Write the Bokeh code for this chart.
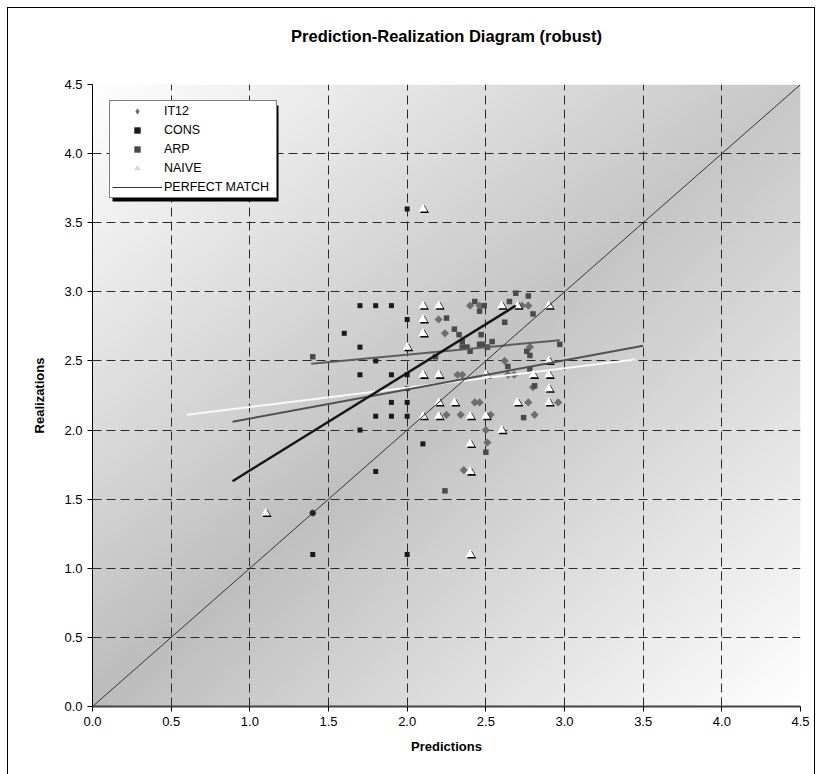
import numpy as np
from bokeh.plotting import figure
from bokeh.models import (Legend, LegendItem, ColumnDataSource, FixedTicker, NumeralTickFormatter,
                          BoxAnnotation, LinearAxis)
from bokeh.transform import dodge
from bokeh.embed import file_html
from bokeh.resources import INLINE

# ---------------- data ----------------
title_text = "Prediction-Realization Diagram (robust)"
x_label = "Predictions"
y_label = "Realizations"
axis_min, axis_max = 0.0, 4.5
tick_values = [0.0, 0.5, 1.0, 1.5, 2.0, 2.5, 3.0, 3.5, 4.0, 4.5]

it12_x = [2.40, 2.46, 2.73, 2.77, 2.20, 2.24, 2.62, 2.78, 2.32, 2.35, 2.64, 2.68, 2.80,
          2.43, 2.46, 2.77, 2.96, 2.25, 2.34, 2.53, 2.81, 2.50, 2.51, 2.36, 1.40]
it12_y = [2.90, 2.90, 2.90, 2.90, 2.80, 2.70, 2.50, 2.60, 2.40, 2.40, 2.40, 2.40, 2.31,
          2.20, 2.20, 2.20, 2.20, 2.11, 2.11, 2.11, 2.11, 2.00, 1.91, 1.71, 1.40]

cons_x = [2.0, 1.7, 1.8, 1.9, 2.0, 1.6, 1.7, 1.8, 1.7, 1.9, 2.0, 2.0, 1.9, 2.0, 1.8, 1.9,
          2.0, 1.7, 2.1, 1.8, 1.4, 1.4, 2.0]
cons_y = [3.6, 2.9, 2.9, 2.9, 2.8, 2.7, 2.6, 2.5, 2.4, 2.4, 2.4, 2.3, 2.2, 2.2, 2.1, 2.1,
          2.1, 2.0, 1.9, 1.7, 1.4, 1.1, 1.1]

arp_x = [1.40, 2.18, 2.25, 2.30, 2.33, 2.35, 2.35, 2.38, 2.40, 2.43, 2.49, 2.46, 2.47, 2.46,
         2.48, 2.51, 2.54, 2.62, 2.65, 2.69, 2.77, 2.80, 2.76, 2.78, 2.97, 2.64, 2.78, 2.81,
         2.74, 2.50, 2.24]
arp_y = [2.53, 2.53, 2.81, 2.73, 2.69, 2.64, 2.60, 2.60, 2.57, 2.93, 2.90, 2.86, 2.69, 2.62,
         2.62, 2.60, 2.64, 2.78, 2.93, 2.99, 2.97, 2.84, 2.57, 2.54, 2.62, 2.46, 2.44, 2.32,
         2.09, 1.84, 1.56]

naive_x = [2.1, 2.1, 2.2, 2.6, 2.7, 2.9, 2.1, 2.1, 2.0, 2.9, 2.1, 2.2, 2.5, 2.8, 2.9, 2.9,
           2.2, 2.3, 2.7, 2.9, 2.1, 2.2, 2.4, 2.5, 2.6, 2.4, 2.4, 1.1, 2.4]
naive_y = [3.6, 2.9, 2.9, 2.9, 2.9, 2.9, 2.8, 2.7, 2.6, 2.5, 2.4, 2.4, 2.4, 2.4, 2.4, 2.3,
           2.2, 2.2, 2.2, 2.2, 2.1, 2.1, 2.1, 2.1, 2.0, 1.9, 1.7, 1.4, 1.1]

# trend lines (end points)
trend_black_x = [0.89, 2.69]
trend_black_y = [1.63, 2.90]
trend_dark_x = [0.89, 3.50]
trend_dark_y = [2.06, 2.61]
trend_mid_x = [1.39, 2.97]
trend_mid_y = [2.48, 2.65]
trend_white_x = [0.60, 3.45]
trend_white_y = [2.11, 2.51]

perfect_x = [0.0, 4.5]
perfect_y = [0.0, 4.5]

legend_labels = ["IT12", "CONS", "ARP", "NAIVE", "PERFECT MATCH"]

# ---------------- layout constants (pixels) ----------------
FRAME_W, FRAME_H = 708, 622
BORDER_L, BORDER_R, BORDER_T, BORDER_B = 84, 14, 76, 68
TITLE_GAP = 40
LEG_X, LEG_Y = 17, 508          # legend bottom-left offset inside frame
LEG_PAD, LEG_GLYPH_W, LEG_STANDOFF, LEG_LABEL_W = 2, 50, 2, 110
LEG_ROW_H, LEG_SPACING, N_ROWS = 16, 3, 5
SHADOW = 3

FONT = "Liberation Sans"
p = figure(frame_width=FRAME_W, frame_height=FRAME_H,
           x_range=(axis_min, axis_max), y_range=(axis_min, axis_max),
           output_backend="svg", toolbar_location=None,
           min_border_left=BORDER_L, min_border_right=BORDER_R,
           min_border_top=BORDER_T, min_border_bottom=BORDER_B)
p.styles = {"margin-left": "7px", "margin-top": "7px",
            "border-top": "1px solid #000000", "border-left": "1px solid #000000",
            "border-right": "1px solid #000000"}
p.background_fill_color = "white"
p.border_fill_color = "white"
p.outline_line_color = None

xax = p.below[0]
yax = p.left[0]

# chart title: label of a tick-less axis above the frame
title_axis = LinearAxis(ticker=FixedTicker(ticks=[]), axis_line_color=None,
                        major_tick_line_color=None, minor_tick_line_color=None,
                        major_tick_out=0, major_tick_in=0, major_label_standoff=0,
                        axis_label=title_text, axis_label_standoff=TITLE_GAP,
                        axis_label_text_font=FONT, axis_label_text_font_size="16.5px",
                        axis_label_text_font_style="bold", axis_label_text_color="#000000")
p.add_layout(title_axis, "above")

it12_src = ColumnDataSource(dict(x=it12_x, y=it12_y))
naive_src = ColumnDataSource(dict(x=naive_x, y=naive_y))

# legend key glyphs (drawn beneath the opaque plot background, only shown in the legend)
r_it12_key = p.scatter("x", "y", source=it12_src, marker="diamond", size=11.5,
                       fill_color="#6e6e6e", line_color=None, level="image")
r_naive_key = p.scatter("x", "y", source=naive_src, marker="triangle", size=9,
                        fill_color="#d6d6d6", line_color=None, level="image")

# gradient background of the plot area
n = 300
u = np.linspace(0, 1, n)
U, V = np.meshgrid(u, u)
d = np.abs(U - V)
s = (U + V) / 2
dark = 188 + 12 * s
g = dark + (255 - dark) * d ** 1.0
img = np.zeros((n, n), dtype=np.uint32)
view = img.view(dtype=np.uint8).reshape((n, n, 4))
gv = np.clip(g, 0, 255).astype(np.uint8)
view[..., 0] = gv
view[..., 1] = gv
view[..., 2] = gv
view[..., 3] = 255
p.image_rgba(image=[img], x=axis_min, y=axis_min, dw=axis_max - axis_min,
             dh=axis_max - axis_min, level="image")

# grid
for grid in (p.xgrid, p.ygrid):
    grid.ticker = FixedTicker(ticks=tick_values)
    grid.grid_line_color = "#2a2a2a"
    grid.grid_line_dash = "9 5"
    grid.grid_line_width = 1

# axes
for ax in (xax, yax):
    ax.ticker = FixedTicker(ticks=tick_values)
    ax.formatter = NumeralTickFormatter(format="0.0")
    ax.major_tick_out = 5
    ax.major_tick_in = 0
    ax.minor_tick_line_color = None
    ax.major_label_text_font = FONT
    ax.major_label_text_font_size = "13px"
    ax.major_label_text_color = "#000000"
    ax.axis_label_text_font = FONT
    ax.axis_label_text_font_size = "13px"
    ax.axis_label_text_font_style = "bold"
    ax.axis_label_text_color = "#000000"
    ax.major_tick_line_color = "#000000"
xax.axis_label = x_label
yax.axis_label = y_label
xax.axis_line_color = "#444444"
xax.axis_line_width = 2
yax.axis_line_color = "#000000"
xax.major_label_standoff = 5
xax.axis_label_standoff = 10
yax.major_label_standoff = 5
yax.axis_label_standoff = 14

# ---------------- series ----------------
p.scatter("x", "y", source=it12_src, marker="square", angle=np.pi / 4, size=5.8,
          fill_color="#6e6e6e", line_color=None)
r_cons = p.scatter(cons_x, cons_y, marker="square", size=5,
                   fill_color="#1a1a1a", line_color=None)
r_arp = p.scatter(arp_x, arp_y, marker="square", size=5.5,
                  fill_color="#4a4a4a", line_color=None)

p.scatter(x=dodge("x", 0.010), y=dodge("y", -0.011), source=naive_src, marker="triangle",
          size=9, fill_color="#000000", line_color=None)
p.scatter(x="x", y="y", source=naive_src, marker="triangle", size=9,
          fill_color="#ffffff", line_color=None)

# trend lines
p.line(trend_white_x, trend_white_y, line_color="#f8f8f8", line_width=2)
p.line(trend_dark_x, trend_dark_y, line_color="#505050", line_width=2)
p.line(trend_mid_x, trend_mid_y, line_color="#5c5c5c", line_width=2)
p.line(trend_black_x, trend_black_y, line_color="#151515", line_width=2.5)
r_perfect = p.line(perfect_x, perfect_y, line_color="#333333", line_width=1)

renderers = [r_it12_key, r_cons, r_arp, r_naive_key, r_perfect]

# legend drop shadow (pixel offsets converted to data units)
px_x = (axis_max - axis_min) / FRAME_W
px_y = (axis_max - axis_min) / FRAME_H
leg_w = 2 * LEG_PAD + LEG_GLYPH_W + LEG_STANDOFF + LEG_LABEL_W
leg_h = 2 * LEG_PAD + N_ROWS * LEG_ROW_H + (N_ROWS - 1) * LEG_SPACING
p.add_layout(BoxAnnotation(left=axis_min + (LEG_X + SHADOW) * px_x,
                           right=axis_min + (LEG_X + leg_w + SHADOW) * px_x,
                           bottom=axis_min + (LEG_Y - SHADOW) * px_y,
                           top=axis_min + (LEG_Y + leg_h - SHADOW) * px_y,
                           fill_color="#000000", fill_alpha=1, line_color=None))

items = [LegendItem(label=lab, renderers=[r]) for lab, r in zip(legend_labels, renderers)]
lg = Legend(items=items, location=(LEG_X, LEG_Y), orientation="vertical")
lg.padding = LEG_PAD
lg.spacing = LEG_SPACING
lg.label_height = LEG_ROW_H
lg.glyph_height = LEG_ROW_H
lg.glyph_width = LEG_GLYPH_W
lg.label_width = LEG_LABEL_W
lg.label_standoff = LEG_STANDOFF
lg.margin = 0
lg.label_text_font = FONT
lg.label_text_font_size = "12.5px"
lg.label_text_color = "#000000"
lg.border_line_color = "#000000"
lg.border_line_width = 1
lg.background_fill_color = "#ffffff"
lg.background_fill_alpha = 1
p.add_layout(lg, "center")

open("out.html", "w").write(file_html(p, INLINE))
